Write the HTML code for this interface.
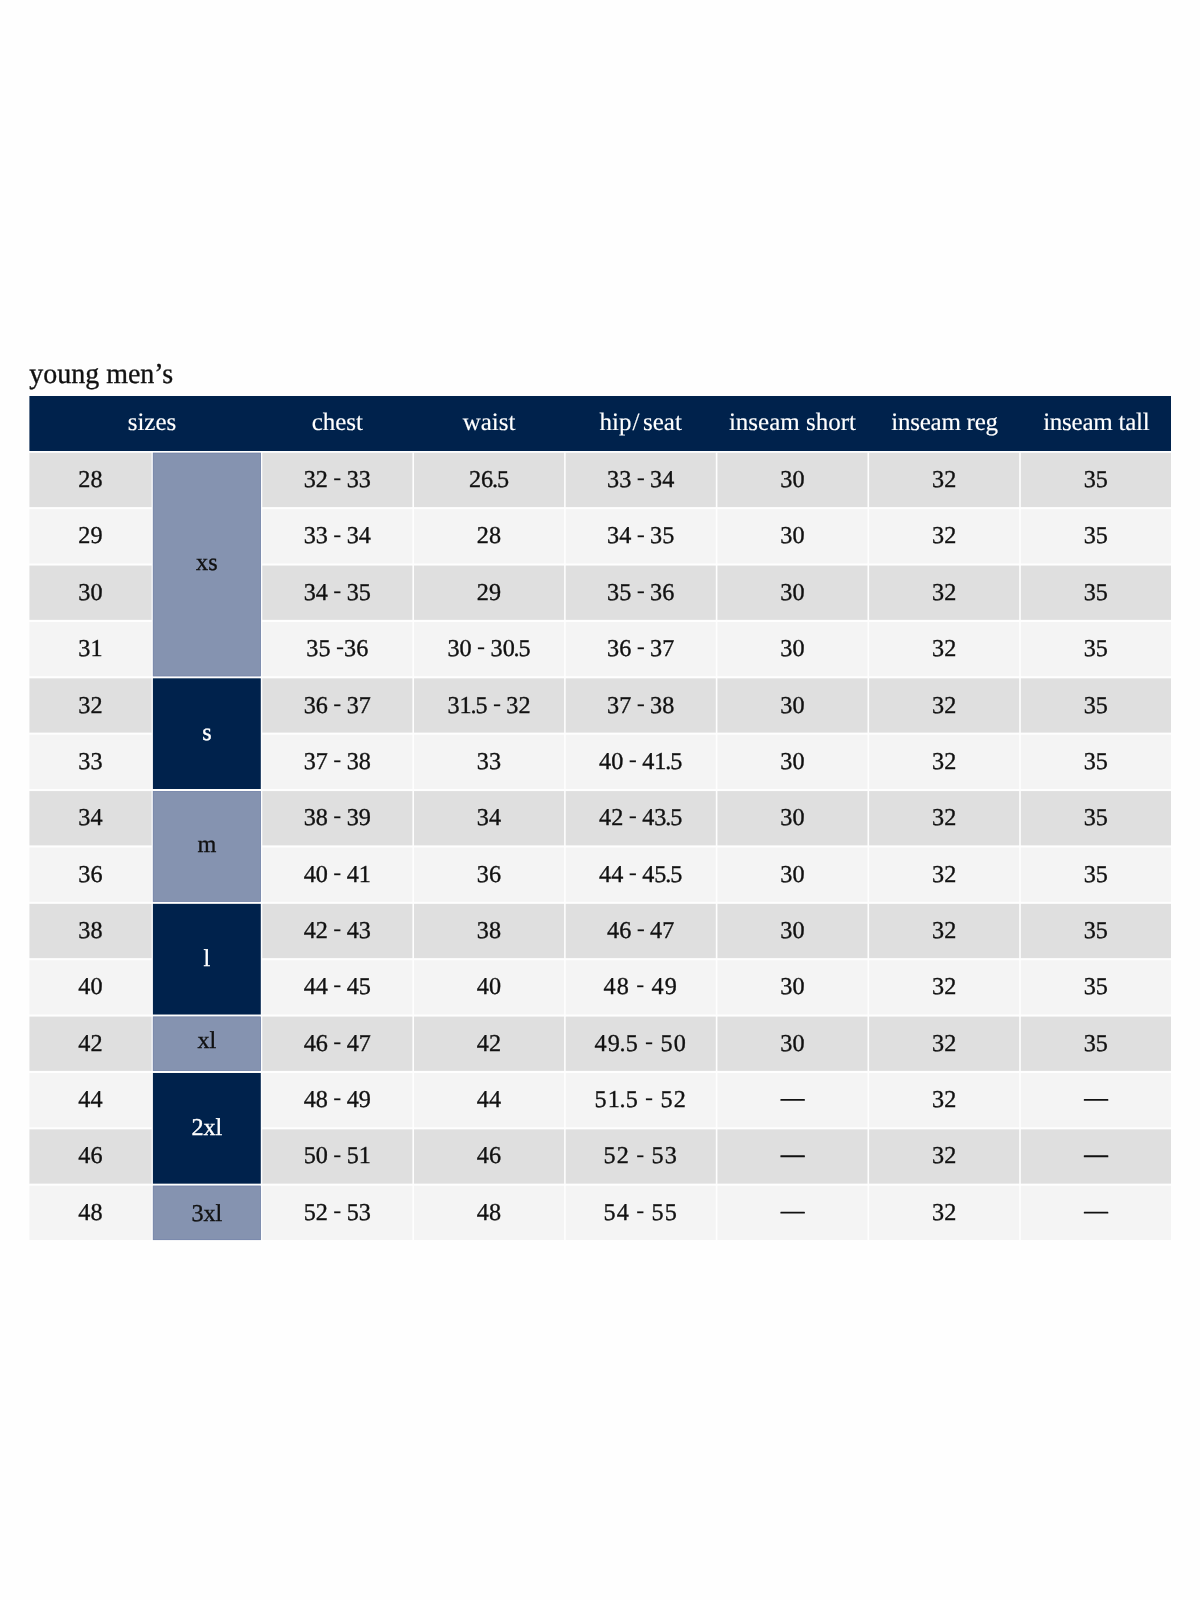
<!DOCTYPE html><html><head><meta charset="utf-8"><title>young men's size chart</title>
<style>html,body{margin:0;padding:0;background:#fff}svg{display:block;will-change:transform}text{font-family:"Liberation Serif",serif;text-rendering:geometricPrecision;stroke-width:0.35px;text-anchor:middle}.k text,text.k{fill:#111;stroke:#111}.w text,text.w{fill:#fff;stroke:#fff}.h text{stroke-width:.15px}.ls{letter-spacing:-.25px}.n{letter-spacing:.1px}.d{word-spacing:-0.9px;letter-spacing:.1px}.d2{word-spacing:-0.9px;letter-spacing:1.1px}.t{text-anchor:start}</style></head><body>
<svg width="1200" height="1600" viewBox="0 0 1200 1600">
<rect width="1200" height="1600" fill="#fefefe"/>
<text class="k t" transform="translate(29.2 383.2) scale(0.972 1)" font-size="28.8">young men’s</text>
<rect x="29.4" y="396.0" width="1141.60" height="55.00" fill="#00224c"/>
<g class="w h" font-size="25">
<text x="152" y="430.00">sizes</text>
<text x="337.35" y="430.00">chest</text>
<text x="489.05" y="430.00">waist</text>
<text x="640.75" y="430.00">hip<tspan dx="1">/</tspan><tspan dx="3.5">seat</tspan></text>
<text x="792.45" y="430.00">inseam short</text>
<text class="ls" x="944.55" y="430.00">inseam reg</text>
<text class="ls" x="1096.25" y="430.00">inseam tall</text>
</g>
<g class="k" font-size="24.2">
<rect x="29.4" y="452.80" width="122.20" height="54.3" fill="#dfdfdf"/>
<rect x="262.30" y="452.80" width="150.10" height="54.3" fill="#dfdfdf"/>
<rect x="414.00" y="452.80" width="150.10" height="54.3" fill="#dfdfdf"/>
<rect x="565.70" y="452.80" width="150.10" height="54.3" fill="#dfdfdf"/>
<rect x="717.40" y="452.80" width="150.10" height="54.3" fill="#dfdfdf"/>
<rect x="869.10" y="452.80" width="150.10" height="54.3" fill="#dfdfdf"/>
<rect x="1020.80" y="452.80" width="150.20" height="54.3" fill="#dfdfdf"/>
<text class="n" x="90.55" y="487.10">28</text>
<text class="d" x="337.35" y="487.10">32 <tspan dy="-1.8" stroke="none">-</tspan><tspan dy="1.8"> </tspan>33</text>
<text class="d" x="489.05" y="487.10">26<tspan dx="-1.4">.</tspan><tspan dx="-1.1">5</tspan></text>
<text class="d" x="640.75" y="487.10">33 <tspan dy="-1.8" stroke="none">-</tspan><tspan dy="1.8"> </tspan>34</text>
<text class="d" x="792.45" y="487.10">30</text>
<text class="d" x="944.15" y="487.10">32</text>
<text class="d" x="1095.85" y="487.10">35</text>
<rect x="29.4" y="509.18" width="122.20" height="54.3" fill="#f4f4f4"/>
<rect x="262.30" y="509.18" width="150.10" height="54.3" fill="#f4f4f4"/>
<rect x="414.00" y="509.18" width="150.10" height="54.3" fill="#f4f4f4"/>
<rect x="565.70" y="509.18" width="150.10" height="54.3" fill="#f4f4f4"/>
<rect x="717.40" y="509.18" width="150.10" height="54.3" fill="#f4f4f4"/>
<rect x="869.10" y="509.18" width="150.10" height="54.3" fill="#f4f4f4"/>
<rect x="1020.80" y="509.18" width="150.20" height="54.3" fill="#f4f4f4"/>
<text class="n" x="90.55" y="543.45">29</text>
<text class="d" x="337.35" y="543.45">33 <tspan dy="-1.8" stroke="none">-</tspan><tspan dy="1.8"> </tspan>34</text>
<text class="d" x="489.05" y="543.45">28</text>
<text class="d" x="640.75" y="543.45">34 <tspan dy="-1.8" stroke="none">-</tspan><tspan dy="1.8"> </tspan>35</text>
<text class="d" x="792.45" y="543.45">30</text>
<text class="d" x="944.15" y="543.45">32</text>
<text class="d" x="1095.85" y="543.45">35</text>
<rect x="29.4" y="565.56" width="122.20" height="54.3" fill="#dfdfdf"/>
<rect x="262.30" y="565.56" width="150.10" height="54.3" fill="#dfdfdf"/>
<rect x="414.00" y="565.56" width="150.10" height="54.3" fill="#dfdfdf"/>
<rect x="565.70" y="565.56" width="150.10" height="54.3" fill="#dfdfdf"/>
<rect x="717.40" y="565.56" width="150.10" height="54.3" fill="#dfdfdf"/>
<rect x="869.10" y="565.56" width="150.10" height="54.3" fill="#dfdfdf"/>
<rect x="1020.80" y="565.56" width="150.20" height="54.3" fill="#dfdfdf"/>
<text class="n" x="90.55" y="599.80">30</text>
<text class="d" x="337.35" y="599.80">34 <tspan dy="-1.8" stroke="none">-</tspan><tspan dy="1.8"> </tspan>35</text>
<text class="d" x="489.05" y="599.80">29</text>
<text class="d" x="640.75" y="599.80">35 <tspan dy="-1.8" stroke="none">-</tspan><tspan dy="1.8"> </tspan>36</text>
<text class="d" x="792.45" y="599.80">30</text>
<text class="d" x="944.15" y="599.80">32</text>
<text class="d" x="1095.85" y="599.80">35</text>
<rect x="29.4" y="621.94" width="122.20" height="54.3" fill="#f4f4f4"/>
<rect x="262.30" y="621.94" width="150.10" height="54.3" fill="#f4f4f4"/>
<rect x="414.00" y="621.94" width="150.10" height="54.3" fill="#f4f4f4"/>
<rect x="565.70" y="621.94" width="150.10" height="54.3" fill="#f4f4f4"/>
<rect x="717.40" y="621.94" width="150.10" height="54.3" fill="#f4f4f4"/>
<rect x="869.10" y="621.94" width="150.10" height="54.3" fill="#f4f4f4"/>
<rect x="1020.80" y="621.94" width="150.20" height="54.3" fill="#f4f4f4"/>
<text class="n" x="90.55" y="656.15">31</text>
<text class="d" x="337.35" y="656.15">35 <tspan dy="-1.8" stroke="none">-</tspan><tspan dy="1.8">3</tspan>6</text>
<text class="d" x="489.05" y="656.15">30 <tspan dy="-1.8" stroke="none">-</tspan><tspan dy="1.8"> </tspan>30<tspan dx="-1.4">.</tspan><tspan dx="-1.1">5</tspan></text>
<text class="d" x="640.75" y="656.15">36 <tspan dy="-1.8" stroke="none">-</tspan><tspan dy="1.8"> </tspan>37</text>
<text class="d" x="792.45" y="656.15">30</text>
<text class="d" x="944.15" y="656.15">32</text>
<text class="d" x="1095.85" y="656.15">35</text>
<rect x="29.4" y="678.32" width="122.20" height="54.3" fill="#dfdfdf"/>
<rect x="262.30" y="678.32" width="150.10" height="54.3" fill="#dfdfdf"/>
<rect x="414.00" y="678.32" width="150.10" height="54.3" fill="#dfdfdf"/>
<rect x="565.70" y="678.32" width="150.10" height="54.3" fill="#dfdfdf"/>
<rect x="717.40" y="678.32" width="150.10" height="54.3" fill="#dfdfdf"/>
<rect x="869.10" y="678.32" width="150.10" height="54.3" fill="#dfdfdf"/>
<rect x="1020.80" y="678.32" width="150.20" height="54.3" fill="#dfdfdf"/>
<text class="n" x="90.55" y="712.50">32</text>
<text class="d" x="337.35" y="712.50">36 <tspan dy="-1.8" stroke="none">-</tspan><tspan dy="1.8"> </tspan>37</text>
<text class="d" x="489.05" y="712.50">31<tspan dx="-1.4">.</tspan><tspan dx="-1.1">5</tspan> <tspan dy="-1.8" stroke="none">-</tspan><tspan dy="1.8"> </tspan>32</text>
<text class="d" x="640.75" y="712.50">37 <tspan dy="-1.8" stroke="none">-</tspan><tspan dy="1.8"> </tspan>38</text>
<text class="d" x="792.45" y="712.50">30</text>
<text class="d" x="944.15" y="712.50">32</text>
<text class="d" x="1095.85" y="712.50">35</text>
<rect x="29.4" y="734.70" width="122.20" height="54.3" fill="#f4f4f4"/>
<rect x="262.30" y="734.70" width="150.10" height="54.3" fill="#f4f4f4"/>
<rect x="414.00" y="734.70" width="150.10" height="54.3" fill="#f4f4f4"/>
<rect x="565.70" y="734.70" width="150.10" height="54.3" fill="#f4f4f4"/>
<rect x="717.40" y="734.70" width="150.10" height="54.3" fill="#f4f4f4"/>
<rect x="869.10" y="734.70" width="150.10" height="54.3" fill="#f4f4f4"/>
<rect x="1020.80" y="734.70" width="150.20" height="54.3" fill="#f4f4f4"/>
<text class="n" x="90.55" y="768.85">33</text>
<text class="d" x="337.35" y="768.85">37 <tspan dy="-1.8" stroke="none">-</tspan><tspan dy="1.8"> </tspan>38</text>
<text class="d" x="489.05" y="768.85">33</text>
<text class="d" x="640.75" y="768.85">40 <tspan dy="-1.8" stroke="none">-</tspan><tspan dy="1.8"> </tspan>41<tspan dx="-1.4">.</tspan><tspan dx="-1.1">5</tspan></text>
<text class="d" x="792.45" y="768.85">30</text>
<text class="d" x="944.15" y="768.85">32</text>
<text class="d" x="1095.85" y="768.85">35</text>
<rect x="29.4" y="791.08" width="122.20" height="54.3" fill="#dfdfdf"/>
<rect x="262.30" y="791.08" width="150.10" height="54.3" fill="#dfdfdf"/>
<rect x="414.00" y="791.08" width="150.10" height="54.3" fill="#dfdfdf"/>
<rect x="565.70" y="791.08" width="150.10" height="54.3" fill="#dfdfdf"/>
<rect x="717.40" y="791.08" width="150.10" height="54.3" fill="#dfdfdf"/>
<rect x="869.10" y="791.08" width="150.10" height="54.3" fill="#dfdfdf"/>
<rect x="1020.80" y="791.08" width="150.20" height="54.3" fill="#dfdfdf"/>
<text class="n" x="90.55" y="825.20">34</text>
<text class="d" x="337.35" y="825.20">38 <tspan dy="-1.8" stroke="none">-</tspan><tspan dy="1.8"> </tspan>39</text>
<text class="d" x="489.05" y="825.20">34</text>
<text class="d" x="640.75" y="825.20">42 <tspan dy="-1.8" stroke="none">-</tspan><tspan dy="1.8"> </tspan>43<tspan dx="-1.4">.</tspan><tspan dx="-1.1">5</tspan></text>
<text class="d" x="792.45" y="825.20">30</text>
<text class="d" x="944.15" y="825.20">32</text>
<text class="d" x="1095.85" y="825.20">35</text>
<rect x="29.4" y="847.46" width="122.20" height="54.3" fill="#f4f4f4"/>
<rect x="262.30" y="847.46" width="150.10" height="54.3" fill="#f4f4f4"/>
<rect x="414.00" y="847.46" width="150.10" height="54.3" fill="#f4f4f4"/>
<rect x="565.70" y="847.46" width="150.10" height="54.3" fill="#f4f4f4"/>
<rect x="717.40" y="847.46" width="150.10" height="54.3" fill="#f4f4f4"/>
<rect x="869.10" y="847.46" width="150.10" height="54.3" fill="#f4f4f4"/>
<rect x="1020.80" y="847.46" width="150.20" height="54.3" fill="#f4f4f4"/>
<text class="n" x="90.55" y="881.55">36</text>
<text class="d" x="337.35" y="881.55">40 <tspan dy="-1.8" stroke="none">-</tspan><tspan dy="1.8"> </tspan>41</text>
<text class="d" x="489.05" y="881.55">36</text>
<text class="d" x="640.75" y="881.55">44 <tspan dy="-1.8" stroke="none">-</tspan><tspan dy="1.8"> </tspan>45<tspan dx="-1.4">.</tspan><tspan dx="-1.1">5</tspan></text>
<text class="d" x="792.45" y="881.55">30</text>
<text class="d" x="944.15" y="881.55">32</text>
<text class="d" x="1095.85" y="881.55">35</text>
<rect x="29.4" y="903.84" width="122.20" height="54.3" fill="#dfdfdf"/>
<rect x="262.30" y="903.84" width="150.10" height="54.3" fill="#dfdfdf"/>
<rect x="414.00" y="903.84" width="150.10" height="54.3" fill="#dfdfdf"/>
<rect x="565.70" y="903.84" width="150.10" height="54.3" fill="#dfdfdf"/>
<rect x="717.40" y="903.84" width="150.10" height="54.3" fill="#dfdfdf"/>
<rect x="869.10" y="903.84" width="150.10" height="54.3" fill="#dfdfdf"/>
<rect x="1020.80" y="903.84" width="150.20" height="54.3" fill="#dfdfdf"/>
<text class="n" x="90.55" y="937.90">38</text>
<text class="d" x="337.35" y="937.90">42 <tspan dy="-1.8" stroke="none">-</tspan><tspan dy="1.8"> </tspan>43</text>
<text class="d" x="489.05" y="937.90">38</text>
<text class="d" x="640.75" y="937.90">46 <tspan dy="-1.8" stroke="none">-</tspan><tspan dy="1.8"> </tspan>47</text>
<text class="d" x="792.45" y="937.90">30</text>
<text class="d" x="944.15" y="937.90">32</text>
<text class="d" x="1095.85" y="937.90">35</text>
<rect x="29.4" y="960.22" width="122.20" height="54.3" fill="#f4f4f4"/>
<rect x="262.30" y="960.22" width="150.10" height="54.3" fill="#f4f4f4"/>
<rect x="414.00" y="960.22" width="150.10" height="54.3" fill="#f4f4f4"/>
<rect x="565.70" y="960.22" width="150.10" height="54.3" fill="#f4f4f4"/>
<rect x="717.40" y="960.22" width="150.10" height="54.3" fill="#f4f4f4"/>
<rect x="869.10" y="960.22" width="150.10" height="54.3" fill="#f4f4f4"/>
<rect x="1020.80" y="960.22" width="150.20" height="54.3" fill="#f4f4f4"/>
<text class="n" x="90.55" y="994.25">40</text>
<text class="d" x="337.35" y="994.25">44 <tspan dy="-1.8" stroke="none">-</tspan><tspan dy="1.8"> </tspan>45</text>
<text class="d" x="489.05" y="994.25">40</text>
<text class="d2" x="640.75" y="994.25">48 <tspan dy="-1.8" stroke="none">-</tspan><tspan dy="1.8"> </tspan>49</text>
<text class="d" x="792.45" y="994.25">30</text>
<text class="d" x="944.15" y="994.25">32</text>
<text class="d" x="1095.85" y="994.25">35</text>
<rect x="29.4" y="1016.60" width="122.20" height="54.3" fill="#dfdfdf"/>
<rect x="262.30" y="1016.60" width="150.10" height="54.3" fill="#dfdfdf"/>
<rect x="414.00" y="1016.60" width="150.10" height="54.3" fill="#dfdfdf"/>
<rect x="565.70" y="1016.60" width="150.10" height="54.3" fill="#dfdfdf"/>
<rect x="717.40" y="1016.60" width="150.10" height="54.3" fill="#dfdfdf"/>
<rect x="869.10" y="1016.60" width="150.10" height="54.3" fill="#dfdfdf"/>
<rect x="1020.80" y="1016.60" width="150.20" height="54.3" fill="#dfdfdf"/>
<text class="n" x="90.55" y="1050.60">42</text>
<text class="d" x="337.35" y="1050.60">46 <tspan dy="-1.8" stroke="none">-</tspan><tspan dy="1.8"> </tspan>47</text>
<text class="d" x="489.05" y="1050.60">42</text>
<text class="d2" x="640.75" y="1050.60">49<tspan dx="-1.4">.</tspan><tspan dx="-1.1">5</tspan> <tspan dy="-1.8" stroke="none">-</tspan><tspan dy="1.8"> </tspan>50</text>
<text class="d" x="792.45" y="1050.60">30</text>
<text class="d" x="944.15" y="1050.60">32</text>
<text class="d" x="1095.85" y="1050.60">35</text>
<rect x="29.4" y="1072.98" width="122.20" height="54.3" fill="#f4f4f4"/>
<rect x="262.30" y="1072.98" width="150.10" height="54.3" fill="#f4f4f4"/>
<rect x="414.00" y="1072.98" width="150.10" height="54.3" fill="#f4f4f4"/>
<rect x="565.70" y="1072.98" width="150.10" height="54.3" fill="#f4f4f4"/>
<rect x="717.40" y="1072.98" width="150.10" height="54.3" fill="#f4f4f4"/>
<rect x="869.10" y="1072.98" width="150.10" height="54.3" fill="#f4f4f4"/>
<rect x="1020.80" y="1072.98" width="150.20" height="54.3" fill="#f4f4f4"/>
<text class="n" x="90.55" y="1106.95">44</text>
<text class="d" x="337.35" y="1106.95">48 <tspan dy="-1.8" stroke="none">-</tspan><tspan dy="1.8"> </tspan>49</text>
<text class="d" x="489.05" y="1106.95">44</text>
<text class="d2" x="640.75" y="1106.95">51<tspan dx="-1.4">.</tspan><tspan dx="-1.1">5</tspan> <tspan dy="-1.8" stroke="none">-</tspan><tspan dy="1.8"> </tspan>52</text>
<rect x="780.40" y="1098.93" width="24.5" height="1.9" rx="0.5" fill="#111"/>
<text class="d" x="944.15" y="1106.95">32</text>
<rect x="1083.80" y="1098.93" width="24.5" height="1.9" rx="0.5" fill="#111"/>
<rect x="29.4" y="1129.36" width="122.20" height="54.3" fill="#dfdfdf"/>
<rect x="262.30" y="1129.36" width="150.10" height="54.3" fill="#dfdfdf"/>
<rect x="414.00" y="1129.36" width="150.10" height="54.3" fill="#dfdfdf"/>
<rect x="565.70" y="1129.36" width="150.10" height="54.3" fill="#dfdfdf"/>
<rect x="717.40" y="1129.36" width="150.10" height="54.3" fill="#dfdfdf"/>
<rect x="869.10" y="1129.36" width="150.10" height="54.3" fill="#dfdfdf"/>
<rect x="1020.80" y="1129.36" width="150.20" height="54.3" fill="#dfdfdf"/>
<text class="n" x="90.55" y="1163.30">46</text>
<text class="d" x="337.35" y="1163.30">50 <tspan dy="-1.8" stroke="none">-</tspan><tspan dy="1.8"> </tspan>51</text>
<text class="d" x="489.05" y="1163.30">46</text>
<text class="d2" x="640.75" y="1163.30">52 <tspan dy="-1.8" stroke="none">-</tspan><tspan dy="1.8"> </tspan>53</text>
<rect x="780.40" y="1155.31" width="24.5" height="1.9" rx="0.5" fill="#111"/>
<text class="d" x="944.15" y="1163.30">32</text>
<rect x="1083.80" y="1155.31" width="24.5" height="1.9" rx="0.5" fill="#111"/>
<rect x="29.4" y="1185.74" width="122.20" height="54.3" fill="#f4f4f4"/>
<rect x="262.30" y="1185.74" width="150.10" height="54.3" fill="#f4f4f4"/>
<rect x="414.00" y="1185.74" width="150.10" height="54.3" fill="#f4f4f4"/>
<rect x="565.70" y="1185.74" width="150.10" height="54.3" fill="#f4f4f4"/>
<rect x="717.40" y="1185.74" width="150.10" height="54.3" fill="#f4f4f4"/>
<rect x="869.10" y="1185.74" width="150.10" height="54.3" fill="#f4f4f4"/>
<rect x="1020.80" y="1185.74" width="150.20" height="54.3" fill="#f4f4f4"/>
<text class="n" x="90.55" y="1219.65">48</text>
<text class="d" x="337.35" y="1219.65">52 <tspan dy="-1.8" stroke="none">-</tspan><tspan dy="1.8"> </tspan>53</text>
<text class="d" x="489.05" y="1219.65">48</text>
<text class="d2" x="640.75" y="1219.65">54 <tspan dy="-1.8" stroke="none">-</tspan><tspan dy="1.8"> </tspan>55</text>
<rect x="780.40" y="1211.69" width="24.5" height="1.9" rx="0.5" fill="#111"/>
<text class="d" x="944.15" y="1219.65">32</text>
<rect x="1083.80" y="1211.69" width="24.5" height="1.9" rx="0.5" fill="#111"/>
</g>
<rect x="152.9" y="452.80" width="107.90" height="223.44" fill="#8593b0"/>
<rect x="153.3" y="453.20" width="107.10" height="222.64" fill="none" stroke="#7888ac" stroke-width="0.8"/>
<text class="k" x="206.85" y="570.00" font-size="24.2">xs</text>
<rect x="152.9" y="678.32" width="107.90" height="110.68" fill="#00224c"/>
<text class="w" x="206.85" y="740.00" font-size="24.2">s</text>
<rect x="152.9" y="791.08" width="107.90" height="110.68" fill="#8593b0"/>
<rect x="153.3" y="791.48" width="107.10" height="109.88" fill="none" stroke="#7888ac" stroke-width="0.8"/>
<text class="k" x="206.85" y="852.00" font-size="24.2">m</text>
<rect x="152.9" y="903.84" width="107.90" height="110.68" fill="#00224c"/>
<text class="w" x="206.85" y="966.00" font-size="24.2">l</text>
<rect x="152.9" y="1016.60" width="107.90" height="54.30" fill="#8593b0"/>
<rect x="153.3" y="1017.00" width="107.10" height="53.50" fill="none" stroke="#7888ac" stroke-width="0.8"/>
<text class="k" x="206.85" y="1048.00" font-size="24.2">xl</text>
<rect x="152.9" y="1072.98" width="107.90" height="110.68" fill="#00224c"/>
<text class="w" x="206.85" y="1135.00" font-size="24.2">2xl</text>
<rect x="152.9" y="1185.74" width="107.90" height="54.30" fill="#8593b0"/>
<rect x="153.3" y="1186.14" width="107.10" height="53.50" fill="none" stroke="#7888ac" stroke-width="0.8"/>
<text class="k" x="206.85" y="1221.00" font-size="24.2">3xl</text>
</svg></body></html>
